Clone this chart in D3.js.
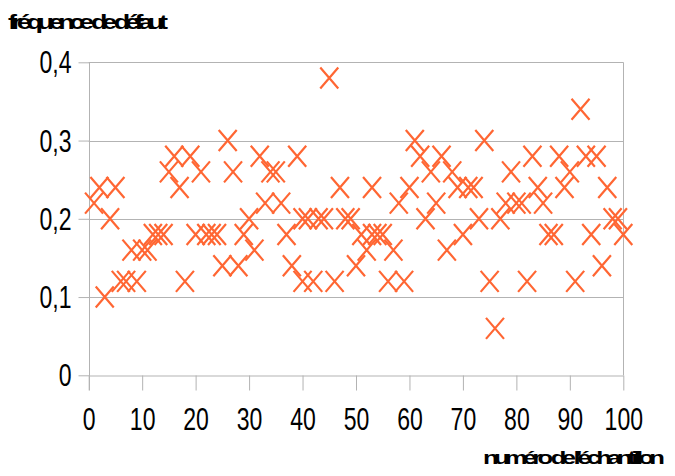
<!DOCTYPE html>
<html>
<head>
<meta charset="utf-8">
<script src="https://cdn.jsdelivr.net/npm/d3@7"></script>
<style>
    body { margin: 0; background: #fff; }
    svg { display: block; }
</style>
</head>
<body>
<div id="chart"></div>
<script>
// numéros d'échantillon et fréquence de défaut
var echantillons = [1, 2, 3, 4, 5, 6, 7, 8, 9, 10, 11, 12, 13, 14, 15, 16, 17, 18, 19, 20,
    21, 22, 23, 24, 25, 26, 27, 28, 29, 30, 31, 32, 33, 34, 35, 36, 37, 38, 39, 40,
    40, 41, 42, 43, 44, 45, 46, 47, 48, 49, 50, 51, 52, 53, 53, 54, 55, 56, 57, 58,
    59, 60, 61, 62, 63, 64, 65, 66, 67, 68, 69, 70, 71, 72, 73, 74, 75, 76, 77, 78,
    79, 80, 81, 82, 83, 84, 85, 86, 87, 88, 89, 90, 91, 92, 93, 94, 95, 96, 97, 98, 99, 100];
var frequences = [0.22, 0.24, 0.10, 0.20, 0.24, 0.12, 0.12, 0.16, 0.12, 0.16, 0.16, 0.18, 0.18, 0.18, 0.26, 0.28, 0.24, 0.12, 0.28, 0.18,
    0.26, 0.18, 0.18, 0.18, 0.14, 0.30, 0.26, 0.14, 0.18, 0.20, 0.16, 0.28, 0.22, 0.26, 0.26, 0.22, 0.18, 0.14, 0.28, 0.20,
    0.12, 0.20, 0.12, 0.20, 0.20, 0.38, 0.12, 0.24, 0.20, 0.20, 0.14, 0.18, 0.16, 0.18, 0.24, 0.18, 0.18, 0.12, 0.16, 0.22,
    0.12, 0.24, 0.30, 0.28, 0.20, 0.26, 0.22, 0.28, 0.16, 0.26, 0.24, 0.18, 0.24, 0.24, 0.20, 0.30, 0.12, 0.06, 0.20, 0.22,
    0.26, 0.22, 0.22, 0.12, 0.28, 0.24, 0.22, 0.18, 0.18, 0.28, 0.24, 0.26, 0.12, 0.34, 0.28, 0.18, 0.28, 0.14, 0.24, 0.20, 0.20, 0.18];

var xTicks = [0, 10, 20, 30, 40, 50, 60, 70, 80, 90, 100];
var yTicks = [0, 0.1, 0.2, 0.3, 0.4];
var yTitle = "fréquence de défaut";
var xTitle = "numéro de l'échantillon";

(function() {
    var width = 675, height = 476;
    var gridColor = "#b3b3b3",
        markColor = "#ff6633",
        fontFamily = "'Liberation Sans', Arial, sans-serif",
        squeeze = 0.72,
        stretch = 1.35;

    var svg = d3.select("#chart")
        .append("svg")
        .attr("width", width)
        .attr("height", height);

    var x = d3.scaleLinear().domain([0, 100]).range([88.7, 623.3]);
    var y = d3.scaleLinear().domain([0, 0.4]).range([375.3, 62.3]);

    var fr = d3.formatLocale({ decimal: ",", thousands: " ", grouping: [3], currency: ["", " €"] });
    var fmt = fr.format(".1f");

    // lignes de la grille horizontale
    svg.append("g")
        .selectAll("line")
        .data(yTicks.slice(1))
        .enter().append("line")
        .attr("x1", x(0))
        .attr("x2", x(100))
        .attr("y1", d => Math.round(y(d)) + 0.5)
        .attr("y2", d => Math.round(y(d)) + 0.5)
        .attr("stroke", gridColor)
        .attr("stroke-width", 1);

    // bord droit du cadre
    svg.append("line")
        .attr("x1", Math.round(x(100)) + 0.5)
        .attr("x2", Math.round(x(100)) + 0.5)
        .attr("y1", y(0.4))
        .attr("y2", y(0))
        .attr("stroke", gridColor);

    var xAxis = svg.append("g")
        .attr("transform", "translate(0," + (Math.round(y(0)) + 0.5) + ")")
        .call(d3.axisBottom(x)
            .tickValues(xTicks)
            .tickSize(15)
            .tickSizeOuter(0)
            .tickFormat(d3.format("d")));

    xAxis.select(".domain").attr("stroke", gridColor);
    xAxis.selectAll(".tick line").attr("stroke", gridColor);
    xAxis.selectAll(".tick text")
        .attr("y", 32)
        .attr("dy", "0.71em")
        .attr("transform", "scale(" + squeeze + ",1)")
        .attr("fill", "#000")
        .style("font-family", fontFamily)
        .style("font-size", "32px");

    var yAxis = svg.append("g")
        .attr("transform", "translate(" + (Math.round(x(0)) + 0.5) + ",0)")
        .call(d3.axisLeft(y)
            .tickValues(yTicks)
            .tickSize(11)
            .tickSizeOuter(0)
            .tickFormat(d => d === 0 ? "0" : fmt(d)));

    yAxis.select(".domain").remove();
    yAxis.append("line")
        .attr("y1", y(0.4))
        .attr("y2", y(0) + 15)
        .attr("stroke", gridColor);
    yAxis.selectAll(".tick line").attr("stroke", gridColor);
    yAxis.selectAll(".tick text")
        .attr("x", -18 / squeeze)
        .attr("dy", "0.33em")
        .attr("transform", "scale(" + squeeze + ",1)")
        .attr("fill", "#000")
        .style("font-family", fontFamily)
        .style("font-size", "32px");

    // croix des points
    var points = echantillons.map((e, i) => ({ n: e, f: frequences[i] }));

    svg.append("g")
        .selectAll("path")
        .data(points)
        .enter().append("path")
        .attr("transform", d => "translate(" + x(d.n) + "," + y(d.f) + ")")
        .attr("d", "M-9,-10.5L9,10.5M-9,10.5L9,-10.5")
        .attr("fill", "none")
        .attr("stroke", markColor)
        .attr("stroke-width", 2.2);

    // titres des axes : glyphes larges et lettres qui se chevauchent comme sur l'original
    svg.append("text")
        .attr("transform", "translate(8,29) scale(" + stretch + ",1)")
        .attr("textLength", 160 / stretch)
        .attr("lengthAdjust", "spacing")
        .style("font-family", fontFamily)
        .style("font-weight", "bold")
        .style("font-size", "20px")
        .text(yTitle);

    svg.append("text")
        .attr("transform", "translate(483,464) scale(" + stretch + ",1)")
        .attr("textLength", 182 / stretch)
        .attr("lengthAdjust", "spacing")
        .style("font-family", fontFamily)
        .style("font-weight", "bold")
        .style("font-size", "19px")
        .text(xTitle);
})();
</script>
</body>
</html>
